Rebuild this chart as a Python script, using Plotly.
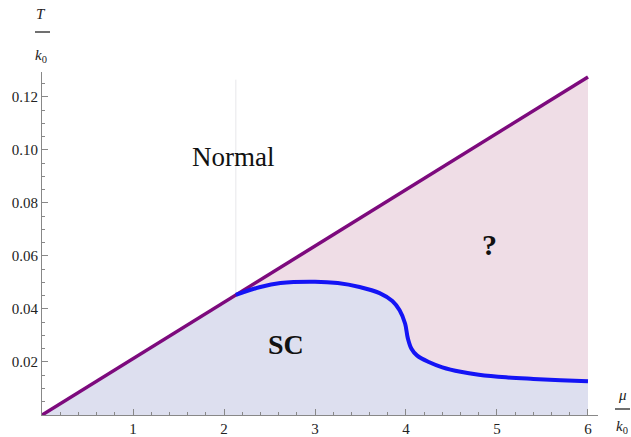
import plotly.graph_objects as go

# Data
mu_curve = [2.13, 2.4, 2.62, 3.0, 3.25, 3.49, 3.71, 3.85, 3.93, 3.99, 4.02, 4.06, 4.12,
            4.25, 4.4, 4.6, 4.8, 5.1, 5.4, 5.7, 6.0]
T_curve = [0.0453, 0.0483, 0.0498, 0.0503, 0.0498, 0.0483, 0.0460, 0.0430, 0.0395, 0.0345,
           0.0290, 0.0250, 0.0225, 0.0200, 0.0180, 0.0163, 0.0152, 0.0142, 0.0136, 0.0131, 0.0127]
mu_line = [0.0, 6.0]
T_line = [0.0, 0.1275]
x_ticks = [1, 2, 3, 4, 5, 6]
y_ticks = [0.02, 0.04, 0.06, 0.08, 0.10, 0.12]
y_tick_labels = ["0.02", "0.04", "0.06", "0.08", "0.10", "0.12"]

slope = T_line[1] / mu_line[1]
mu0, T0 = mu_curve[0], mu_curve[0] * slope

fig = go.Figure()

# SC region (blue)
fig.add_trace(go.Scatter(
    x=[0.0] + mu_curve + [mu_curve[-1], 0.0],
    y=[0.0] + [T0] + T_curve[1:] + [0.0, 0.0],
    fill="toself", fillcolor="rgb(221,223,239)", line=dict(width=0),
    mode="lines", hoverinfo="skip", showlegend=False))

# "?" region (pink)
fig.add_trace(go.Scatter(
    x=mu_curve + [mu_line[1], mu0],
    y=[T0] + T_curve[1:] + [T_line[1], T0],
    fill="toself", fillcolor="rgb(239,221,230)", line=dict(width=0),
    mode="lines", hoverinfo="skip", showlegend=False))

# faint vertical seam
fig.add_trace(go.Scatter(
    x=[mu0, mu0], y=[T0, 0.1265], mode="lines",
    line=dict(color="rgba(215,215,220,0.6)", width=1),
    hoverinfo="skip", showlegend=False))

# Purple line
fig.add_trace(go.Scatter(
    x=mu_line, y=T_line, mode="lines",
    line=dict(color="rgb(125,10,125)", width=3.5),
    hoverinfo="skip", showlegend=False))

# Blue curve
fig.add_trace(go.Scatter(
    x=mu_curve, y=T_curve, mode="lines", line_shape="spline",
    line=dict(color="rgb(20,20,245)", width=4),
    hoverinfo="skip", showlegend=False))

serif = "Liberation Serif"

fig.update_layout(
    width=631, height=437,
    margin=dict(l=42, r=33, t=72, b=22, autoexpand=False),
    paper_bgcolor="white", plot_bgcolor="white",
    font=dict(family=serif, size=14, color="#222"),
    xaxis=dict(range=[0, 6.11], showgrid=False, zeroline=False, automargin=False,
               tickvals=x_ticks, ticktext=[str(v) for v in x_ticks],
               ticks="inside", ticklen=6, tickcolor="#888",
               showline=True, linecolor="#888", linewidth=1,
               minor=dict(ticks="inside", ticklen=3, dtick=0.2, tick0=0, tickcolor="#888"),
               tickfont=dict(family=serif, size=15, color="#222")),
    yaxis=dict(range=[0, 0.1294], showgrid=False, zeroline=False, automargin=False,
               tickvals=y_ticks, ticktext=y_tick_labels,
               ticks="inside", ticklen=6, tickcolor="#888",
               showline=True, linecolor="#888", linewidth=1,
               minor=dict(ticks="inside", ticklen=3, dtick=0.005, tick0=0, tickcolor="#888"),
               tickfont=dict(family=serif, size=15, color="#222")),
)

# Region labels
fig.add_annotation(x=2.1, y=0.0975, text="Normal", showarrow=False,
                   font=dict(family=serif, size=27, color="#111"))
fig.add_annotation(x=2.68, y=0.0265, text="<b>SC</b>", showarrow=False,
                   font=dict(family=serif, size=28, color="#111"))
fig.add_annotation(x=4.92, y=0.0645, text="<b>?</b>", showarrow=False,
                   font=dict(family=serif, size=30, color="#111"))

# Axis labels (fractions)
lab_font = dict(family=serif, size=15, color="#222")
fig.add_annotation(xref="paper", yref="paper", x=0, y=1, xanchor="center", yanchor="middle",
                   xshift=-1, yshift=58, text="<i>T</i>", showarrow=False, font=lab_font)
fig.add_shape(type="line", xref="paper", yref="paper", x0=-7/556, x1=8/556,
              y0=1 + 40/343, y1=1 + 40/343, line=dict(color="#222", width=1.3))
fig.add_annotation(xref="paper", yref="paper", x=0, y=1, xanchor="center", yanchor="middle",
                   xshift=-1, yshift=16, text="<i>k</i><sub>0</sub>", showarrow=False, font=lab_font)

fig.add_annotation(xref="paper", yref="paper", x=1, y=0, xanchor="center", yanchor="middle",
                   xshift=24, yshift=20, text="<i>μ</i>", showarrow=False, font=lab_font)
fig.add_shape(type="line", xref="paper", yref="paper", x0=1 + 17/556, x1=1 + 32/556,
              y0=6/343, y1=6/343, line=dict(color="#222", width=1.3))
fig.add_annotation(xref="paper", yref="paper", x=1, y=0, xanchor="center", yanchor="middle",
                   xshift=24, yshift=-12, text="<i>k</i><sub>0</sub>", showarrow=False, font=lab_font)

fig.write_html("out.html")
